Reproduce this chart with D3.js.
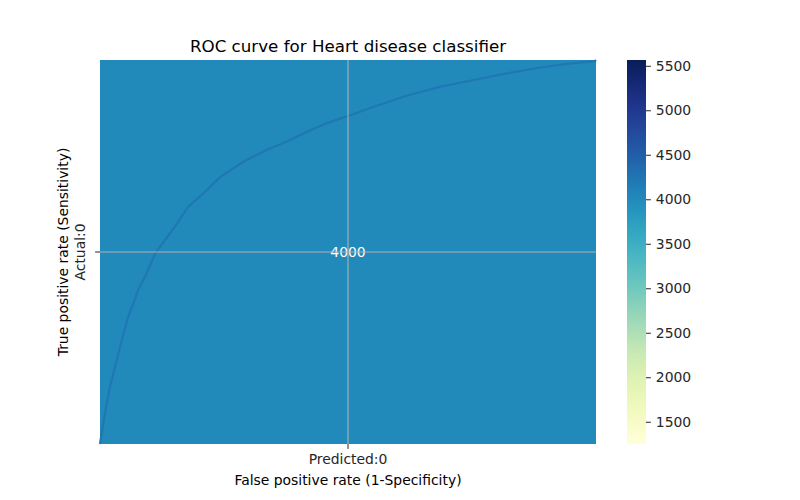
<!DOCTYPE html>
<html>
<head>
<meta charset="utf-8">
<script src="https://cdn.jsdelivr.net/npm/d3@7"></script>
<style>
  body { margin: 0; background: #fff; }
  svg { font-family: "DejaVu Sans", sans-serif; }
</style>
</head>
<body>
<svg id="chart" width="800" height="500"></svg>
<script>
// heatmap cell + ROC overlay

const xCategories = ['Predicted:0'];
const yCategories = ['Actual:0'];
const cellValues = [4000];
const colorDomain = [1250, 5565];
const colorTicks = [1500, 2000, 2500, 3000, 3500, 4000, 4500, 5000, 5500];

// ROC curve
const fpr = [0, 0.010, 0.020, 0.034, 0.044, 0.057, 0.077, 0.091, 0.112, 0.131, 0.151, 0.178,
  0.212, 0.242, 0.289, 0.336, 0.376, 0.417, 0.457, 0.501, 0.558, 0.618, 0.685, 0.753,
  0.820, 0.887, 0.941, 0.998, 1];
const tpr = [0, 0.080, 0.149, 0.219, 0.271, 0.332, 0.401, 0.436, 0.498, 0.531, 0.566, 0.618,
  0.657, 0.695, 0.735, 0.766, 0.787, 0.813, 0.835, 0.855, 0.881, 0.907, 0.930, 0.948,
  0.965, 0.980, 0.990, 0.997, 1];

const svg = d3.select('#chart');
const plot = { left: 100, right: 596, top: 60, bottom: 444 };

const x = d3.scaleBand().domain(xCategories).range([plot.left, plot.right]);
const y = d3.scaleBand().domain(yCategories).range([plot.top, plot.bottom]);
const color = d3.scaleSequential(d3.interpolateYlGnBu).domain(colorDomain);

// cells
svg.append('g').selectAll('rect')
  .data(cellValues)
  .join('rect')
  .attr('x', (d, i) => x(xCategories[i]))
  .attr('y', (d, i) => y(yCategories[i]))
  .attr('width', x.bandwidth())
  .attr('height', y.bandwidth())
  .attr('fill', d => color(d));

// annotation
svg.append('g').selectAll('text')
  .data(cellValues)
  .join('text')
  .attr('x', (d, i) => x(xCategories[i]) + x.bandwidth() / 2)
  .attr('y', (d, i) => y(yCategories[i]) + y.bandwidth() / 2)
  .attr('text-anchor', 'middle')
  .attr('dominant-baseline', 'central')
  .attr('fill', '#fff')
  .attr('font-size', 13.9)
  .text(d => d);

// ROC curve
const rx = d3.scaleLinear().domain([0, 1]).range([plot.left, plot.right]);
const ry = d3.scaleLinear().domain([0, 1]).range([plot.bottom, plot.top]);
const line = d3.line().x(d => rx(d[0])).y(d => ry(d[1]));
svg.append('path')
  .datum(d3.zip(fpr, tpr))
  .attr('d', line)
  .attr('fill', 'none')
  .attr('stroke', '#1f77b4')
  .attr('stroke-width', 2.2)
  .attr('stroke-linejoin', 'round');

// grid lines at tick centres
const grid = svg.append('g').attr('stroke', '#b0b0b0').attr('stroke-width', 1.1);
xCategories.forEach(c => {
  const cx = x(c) + x.bandwidth() / 2;
  grid.append('line').attr('x1', cx).attr('x2', cx).attr('y1', plot.top).attr('y2', plot.bottom);
});
yCategories.forEach(c => {
  const cy = y(c) + y.bandwidth() / 2;
  grid.append('line').attr('x1', plot.left).attr('x2', plot.right).attr('y1', cy).attr('y2', cy);
});

// axes
const xAxis = svg.append('g')
  .attr('transform', `translate(0,${plot.bottom})`)
  .call(d3.axisBottom(x).tickSize(4.9).tickPadding(4.9));
const yAxis = svg.append('g')
  .attr('transform', `translate(${plot.left},0)`)
  .call(d3.axisLeft(y).tickSize(4.9).tickFormat(''));
[xAxis, yAxis].forEach(a => {
  a.select('.domain').remove();
  a.selectAll('text').attr('font-size', 13.9).attr('fill', '#262626').attr('font-family', 'DejaVu Sans');
  a.selectAll('line').attr('stroke', '#262626');
});
// rotated y tick labels
svg.append('g').selectAll('text')
  .data(yCategories)
  .join('text')
  .attr('transform', d => `translate(${plot.left - 15},${y(d) + y.bandwidth() / 2}) rotate(-90)`)
  .attr('text-anchor', 'middle')
  .attr('font-size', 13.9)
  .attr('fill', '#262626')
  .text(d => d);

// labels
svg.append('text')
  .attr('x', (plot.left + plot.right) / 2).attr('y', 52)
  .attr('text-anchor', 'middle').attr('font-size', 16.7).attr('fill', '#000')
  .text('ROC curve for Heart disease classifier');
svg.append('text')
  .attr('x', (plot.left + plot.right) / 2).attr('y', 485)
  .attr('text-anchor', 'middle').attr('font-size', 13.9).attr('fill', '#000')
  .text('False positive rate (1-Specificity)');
svg.append('text')
  .attr('transform', `translate(68,${(plot.top + plot.bottom) / 2}) rotate(-90)`)
  .attr('text-anchor', 'middle').attr('font-size', 13.9).attr('fill', '#000')
  .text('True positive rate (Sensitivity)');

// colorbar
const cb = { left: 627, width: 19 };
const cbScale = d3.scaleLinear().domain(colorDomain).range([plot.bottom, plot.top]);
const grad = svg.append('defs').append('linearGradient')
  .attr('id', 'cbgrad').attr('x1', 0).attr('x2', 0).attr('y1', 1).attr('y2', 0);
d3.range(0, 1.0001, 0.02).forEach(t => {
  grad.append('stop').attr('offset', t).attr('stop-color', d3.interpolateYlGnBu(t));
});
svg.append('rect')
  .attr('x', cb.left).attr('y', plot.top)
  .attr('width', cb.width).attr('height', plot.bottom - plot.top)
  .attr('fill', 'url(#cbgrad)');
const cbAxis = svg.append('g')
  .attr('transform', `translate(${cb.left + cb.width},0)`)
  .call(d3.axisRight(cbScale).tickValues(colorTicks).tickSize(4.9).tickPadding(4.9).tickFormat(d3.format('d')));
cbAxis.select('.domain').remove();
cbAxis.selectAll('text').attr('font-size', 13.9).attr('fill', '#262626').attr('font-family', 'DejaVu Sans');
cbAxis.selectAll('line').attr('stroke', '#262626');
</script>
</body>
</html>
